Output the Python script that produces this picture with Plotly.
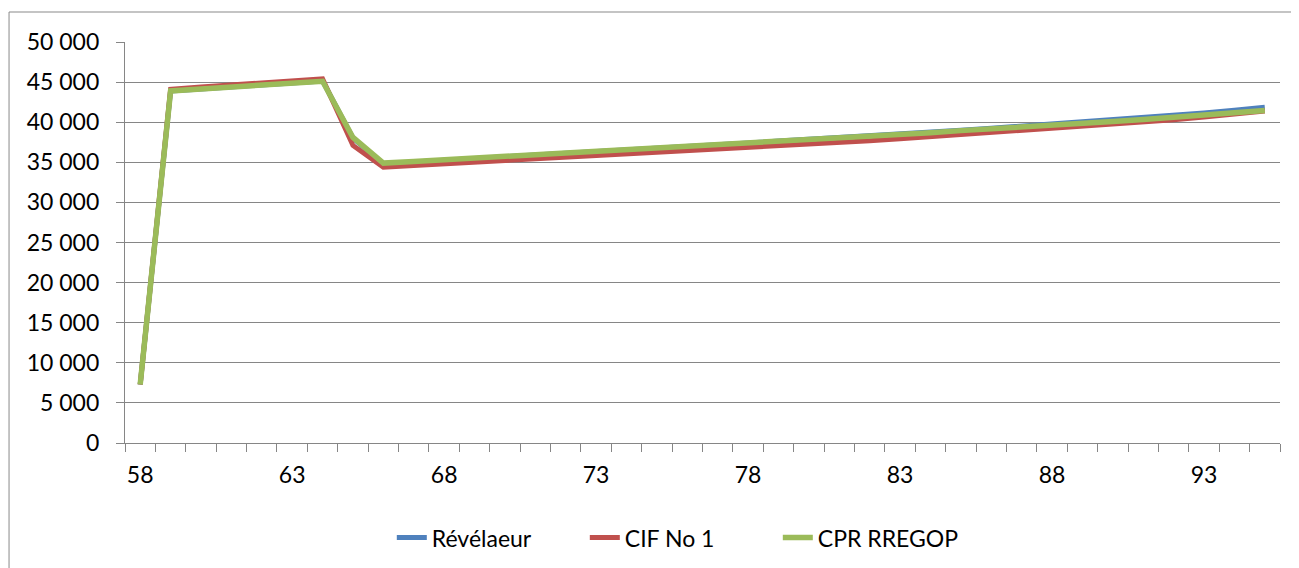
import plotly.graph_objects as go

ages = list(range(58, 96))
revelaeur = [7300, 43900, 44150, 44400, 44650, 44900, 45150, 38000, 34800, 35050,
             35250, 35450, 35700, 35900, 36100, 36300, 36550, 36750, 36950, 37200,
             37400, 37650, 37850, 38100, 38300, 38550, 38750, 39000, 39250, 39500,
             39750, 40000, 40250, 40550, 40850, 41150, 41500, 41850]
cif_no1 = [7300, 44100, 44400, 44650, 44900, 45200, 45400, 37100, 34400, 34600,
           34800, 35000, 35150, 35350, 35550, 35750, 35950, 36150, 36400, 36600,
           36800, 37000, 37250, 37450, 37700, 37950, 38200, 38400, 38650, 38900,
           39150, 39400, 39700, 40000, 40300, 40650, 41000, 41400]
cpr_rregop = [7300, 43900, 44150, 44400, 44650, 44900, 45100, 38100, 34900, 35100,
              35350, 35550, 35750, 35950, 36150, 36350, 36550, 36750, 36950, 37200,
              37400, 37650, 37850, 38050, 38300, 38500, 38700, 38950, 39150, 39400,
              39650, 39850, 40100, 40350, 40600, 40850, 41150, 41450]
x_ticks = [58, 63, 68, 73, 78, 83, 88, 93]
y_ticks = [0, 5000, 10000, 15000, 20000, 25000, 30000, 35000, 40000, 45000, 50000]
y_labels = ["0", "5 000", "10 000", "15 000", "20 000", "25 000", "30 000",
            "35 000", "40 000", "45 000", "50 000"]

FONT = "Lato"
GRID = "#868686"
FS = 23

fig = go.Figure()
fig.add_trace(go.Scatter(x=ages, y=revelaeur, mode="lines", name="Révélaeur",
                         line=dict(color="#4F81BD", width=5)))
fig.add_trace(go.Scatter(x=ages, y=cif_no1, mode="lines", name="CIF No 1",
                         line=dict(color="#C0504D", width=5)))
fig.add_trace(go.Scatter(x=ages, y=cpr_rregop, mode="lines", name="CPR RREGOP",
                         line=dict(color="#9BBB59", width=5.5)))

fig.update_layout(
    width=1299, height=568,
    margin=dict(l=117, r=27, t=34, b=133),
    paper_bgcolor="white", plot_bgcolor="white",
    font=dict(family=FONT, size=FS, color="black"),
    showlegend=True,
    legend=dict(orientation="h", x=0.231, xanchor="left", y=-0.236, yanchor="middle",
                font=dict(family=FONT, size=FS), entrywidth=148, entrywidthmode="pixels",
                tracegroupgap=0),
    shapes=[dict(type="rect", xref="paper", yref="paper",
                 x0=-0.1004, x1=1.2, y0=-0.5, y1=1.0748,
                 line=dict(color="#898989", width=1), fillcolor="rgba(0,0,0,0)", layer="below")],
)
fig.update_xaxes(range=[57.5, 95.5], tickmode="array", tickvals=x_ticks,
                 ticktext=[str(v) for v in x_ticks], ticks="", showgrid=False,
                 showline=True, linecolor=GRID, linewidth=1.3, zeroline=False,
                 ticklabelstandoff=11,
                 minor=dict(tickmode="linear", tick0=57.5, dtick=1, ticks="outside",
                            ticklen=8, tickcolor=GRID, tickwidth=1.3, showgrid=False),
                 tickfont=dict(family=FONT, size=FS))
fig.update_yaxes(range=[0, 50000], tickmode="array", tickvals=y_ticks, ticktext=y_labels,
                 ticks="outside", ticklen=8, tickcolor=GRID, tickwidth=1.3,
                 showgrid=True, gridcolor=GRID, gridwidth=1.3,
                 showline=True, linecolor=GRID, linewidth=1.3, zeroline=False,
                 ticklabelstandoff=12,
                 tickfont=dict(family=FONT, size=FS))

fig.write_html("out.html")
